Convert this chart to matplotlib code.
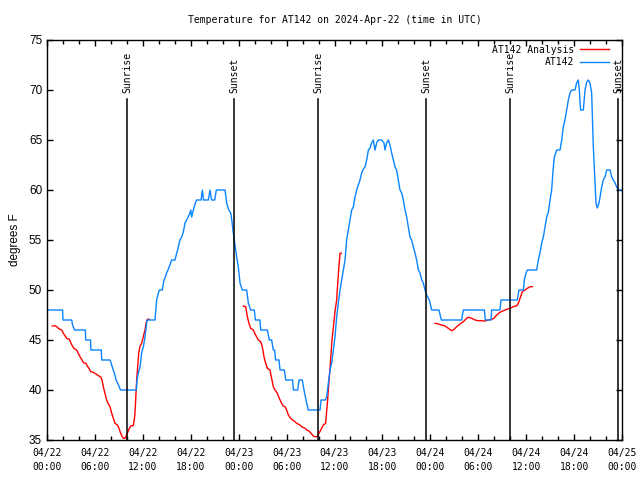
"""
Temperature plot for AT142, gnuplot look-alike
"""

import matplotlib
matplotlib.use('Agg')
import matplotlib.pyplot as plt
import matplotlib.dates as mdates
import numpy as np
import pandas as pd

START = pd.Timestamp('2024-04-22 00:00')

# station readings, hours after START / degrees F
at142_hours = [
    0.0, 1.95, 2.0, 3.1, 3.2, 3.45, 4.8, 4.85, 5.45, 5.5, 6.8, 6.85, 7.9, 8.1,
    8.3, 8.5, 8.65, 8.95, 9.2, 11.19, 11.27, 11.44, 11.65, 11.85, 12.06, 12.27,
    12.48, 12.56, 13.52, 13.65, 13.73, 13.94, 14.07, 14.44, 14.65, 14.82, 14.98,
    15.15, 15.61, 16.03, 16.24, 16.45, 16.65, 16.86, 17.07, 17.28, 17.49, 17.91,
    17.99, 18.12, 18.32, 18.57, 18.74, 19.3, 19.45, 19.6, 20.2, 20.41, 20.6,
    21.0, 21.2, 22.29, 22.5, 22.71, 23.0, 23.12, 23.33, 23.5, 23.75, 23.96,
    24.17, 24.46, 25.0, 25.21, 25.5, 25.96, 26.09, 26.67, 26.76, 27.59, 27.84,
    28.13, 28.34, 28.5, 28.63, 29.05, 29.18, 29.72, 29.89, 30.76, 30.85, 31.39,
    31.56, 31.97, 32.18, 32.43, 32.72, 34.19, 34.31, 34.85, 35.02, 35.23, 35.44,
    35.65, 35.86, 36.06, 36.27, 36.48, 36.69, 36.9, 37.11, 37.32, 37.52, 37.73,
    37.94, 38.15, 38.36, 38.57, 38.78, 38.99, 39.19, 39.4, 39.61, 39.82, 40.03,
    40.24, 40.45, 40.65, 40.86, 41.07, 41.28, 41.49, 41.91, 42.2, 42.32, 42.53,
    42.74, 42.95, 43.16, 43.37, 43.58, 43.78, 43.99, 44.2, 44.41, 44.62, 44.83,
    45.04, 45.25, 45.45, 45.66, 45.87, 46.08, 46.29, 46.5, 46.71, 46.92, 47.12,
    47.33, 47.54, 47.88, 48.17, 49.08, 49.38, 51.92, 52.13, 54.76, 54.89, 55.6,
    55.68, 56.72, 56.85, 58.89, 59.1, 59.65, 59.77, 59.98, 60.15, 61.32, 61.52,
    61.73, 61.94, 62.15, 62.36, 62.57, 62.78, 62.99, 63.19, 63.4, 63.53, 63.82,
    64.24, 64.45, 64.65, 64.86, 65.07, 65.28, 65.49, 65.7, 66.11, 66.32, 66.53,
    66.66, 66.74, 66.82, 67.16, 67.37, 67.58, 67.79, 67.99, 68.2, 68.41, 68.62,
    68.74, 68.91, 69.12, 69.25, 69.45, 69.66, 69.87, 70.08, 70.5, 70.71, 70.92,
    71.13, 71.33, 71.54, 71.9,
]
at142_temp = [
    48, 48, 47, 47, 46.5, 46, 46, 45, 45, 44, 44, 43, 43, 42.5,
    42, 41.5, 41, 40.5, 40, 40, 41, 41.7, 42.3, 43.7, 44.3, 45.3,
    46.7, 47, 47, 48.3, 49, 49.7, 50, 50, 51, 51.3, 51.7,
    52, 53, 53, 53.7, 54.3, 55, 55.3, 55.8, 56.7, 57, 57.7,
    58, 57.3, 58, 58.7, 59, 59, 60, 59, 59, 60, 59,
    59, 60, 60, 58.7, 58.1, 57.7, 57.1, 55.7, 54.7, 53.3, 52.3,
    50.7, 50, 50, 48.7, 48, 48, 47, 47, 46, 46, 45,
    45, 44, 44, 43, 43, 42, 42, 41, 41, 40, 40,
    41, 41, 40, 39, 38, 38, 39, 39, 39.3, 40.7, 42,
    42.7, 44, 45.3, 47.3, 48.7, 50, 51, 52, 53, 55, 56,
    57, 58, 58.3, 59.3, 60, 60.5, 61, 61.7, 62.1, 62.3, 63,
    64, 64.2, 64.7, 65, 64, 64.7, 65, 65, 64.7, 64, 64.7,
    65, 64.5, 63.7, 63, 62.3, 62, 61, 60, 59.7, 59, 58,
    57.3, 56.3, 55.3, 55, 54.3, 53.7, 53, 52, 51.7, 51, 50.7,
    50, 49.5, 49, 48, 48, 47, 47, 48, 48, 47, 47,
    48, 48, 49, 49, 50, 50, 51, 51.7, 52, 52, 53,
    53.7, 54.7, 55.3, 56.3, 57.3, 57.8, 59, 60, 62.3, 63.3, 64,
    64, 65, 66.3, 67, 68, 69, 69.7, 70, 70, 70.7, 71,
    70, 68.8, 68, 68, 70, 70.8, 71, 70.7, 69.7, 64.3, 60.7,
    58.7, 58.2, 58.7, 59.3, 60.3, 61, 61.3, 62, 62, 61.3, 61,
    60.7, 60.3, 60, 60,
]

# analysis runs (nan = gap between runs)
analysis_hours = [
    0.67, 1.0, 1.21, 1.42, 1.63, 1.84, 2.05, 2.25, 2.46, 2.8, 3.01, 3.3, 3.51,
    3.71, 3.92, 4.13, 4.34, 4.55, 4.88, 5.05, 5.3, 5.47, 5.8, 6.14, 6.43, 6.72,
    6.89, 7.05, 7.26, 7.47, 7.68, 7.89, 8.1, 8.31, 8.52, 8.81, 9.02, 9.22, 9.43,
    9.56, 9.77, 9.89, 10.06, 10.31, 10.52, 10.81, 10.98, 11.06, 11.14, 11.23,
    11.35, 11.48, 11.65, 11.85, 12.06, 12.27, 12.4, 12.56, 12.81,
    np.nan,
    24.58, 24.88, 25.09, 25.29, 25.5, 25.84, 26.05, 26.46, 26.76, 26.96, 27.17,
    27.38, 27.59, 27.92, 28.13, 28.34, 28.55, 28.84, 29.09, 29.38, 29.59, 29.8,
    30.01, 30.22, 30.51, 30.76, 31.05, 31.26, 31.68, 31.89, 32.31, 32.52, 32.81,
    33.06, 33.35, 33.56, 33.85, 34.06, 34.39, 34.6, 34.89, 35.02, 35.14, 35.27,
    35.44, 35.65, 35.86, 36.06, 36.27, 36.36, 36.52, 36.69, 36.86,
    np.nan,
    48.58, 49.0, 49.42, 49.84, 50.25, 50.67, 50.88, 51.3, 51.72, 52.13, 52.55,
    52.76, 53.18, 53.59, 54.01, 54.43, 54.85, 55.26, 55.68, 55.97, 56.31, 56.72,
    57.14, 57.56, 57.98, 58.39, 58.81, 59.02, 59.23, 59.52, 59.85, 60.15, 60.48,
    60.77,
]
analysis_temp = [
    46.4, 46.43, 46.33, 46.17, 46.07, 46.0, 45.67, 45.43, 45.17, 45.07, 44.67,
    44.23, 44.07, 44.0, 43.67, 43.33, 43.07, 42.73, 42.67, 42.4, 42.1, 41.83,
    41.77, 41.6, 41.43, 41.33, 41.0, 40.33, 39.67, 39.0, 38.6, 38.33, 37.67,
    37.17, 36.67, 36.5, 36.17, 35.67, 35.33, 35.17, 35.17, 35.4, 35.67, 36.17,
    36.43, 36.43, 37.33, 38.33, 39.67, 41.0, 42.33, 43.67, 44.4, 44.67, 45.33,
    46.0, 46.67, 47.07, 47.07,
    np.nan,
    48.4, 48.33, 47.33, 46.67, 46.17, 46.0, 45.6, 45.0, 44.83, 44.33, 43.33,
    42.67, 42.17, 42.0, 41.17, 40.33, 40.0, 39.67, 39.17, 38.67, 38.4, 38.33,
    38.0, 37.5, 37.17, 37.0, 36.83, 36.67, 36.5, 36.33, 36.17, 36.0, 35.9,
    35.67, 35.4, 35.33, 35.33, 35.67, 36.17, 36.5, 36.67, 37.83, 39.0, 40.5,
    42.17, 44.67, 46.33, 47.83, 49.0, 50.17, 52.0, 53.67, 53.67,
    np.nan,
    46.67, 46.6, 46.5, 46.4, 46.17, 45.93, 46.0, 46.33, 46.6, 46.83, 47.17,
    47.27, 47.17, 47.0, 46.93, 46.93, 46.9, 47.0, 47.07, 47.17, 47.5, 47.77,
    47.93, 48.07, 48.17, 48.33, 48.43, 48.67, 49.17, 49.83, 50.0, 50.17, 50.33,
    50.33,
]

sun_labels = ['Sunrise', 'Sunset', 'Sunrise', 'Sunset', 'Sunrise', 'Sunset']
sun_hours = [10.05, 23.45, 33.97, 47.47, 58.0, 71.55]

MONO = 'DejaVu Sans Mono'
SANS = 'Liberation Sans'


def to_time(hours):
    """ hours after START -> datetimes """
    return START + pd.to_timedelta(np.asarray(hours, dtype=float), unit='h')


fig = plt.figure(figsize=(6.4, 4.8), dpi=100)
ax = fig.add_axes([47 / 640, 1 - 440 / 480, 575 / 640, 400 / 480])

ax.plot(to_time(analysis_hours), analysis_temp, color='#ff0000', lw=1.0,
        label='AT142 Analysis')
ax.plot(to_time(at142_hours), at142_temp, color='#0a84ff', lw=1.0,
        label='AT142')

for name, h in zip(sun_labels, sun_hours):
    t = to_time([h])[0]
    ax.plot([t, t], [35, 69.1], color='black', lw=1.1)
    ax.text(t, 69.7, name, rotation=90, ha='center', va='bottom',
            family=MONO, fontsize=7)

ax.set_xlim(START, START + pd.Timedelta(hours=72))
ax.set_ylim(35, 75)
ax.set_yticks(range(35, 76, 5))

ax.xaxis.set_major_locator(mdates.HourLocator(byhour=[0, 6, 12, 18]))
ax.xaxis.set_minor_locator(mdates.HourLocator(interval=2))
ax.xaxis.set_major_formatter(mdates.DateFormatter('%m/%d\n%H:%M'))

ax.tick_params(which='both', direction='in', top=True, right=True, width=1.0)
ax.tick_params(which='major', length=4.5)
ax.tick_params(which='minor', length=3)
ax.tick_params(axis='x', pad=6)
for lbl in ax.get_xticklabels():
    lbl.set_family(MONO)
    lbl.set_fontsize(7)
    lbl.set_linespacing(1.5)
for lbl in ax.get_yticklabels():
    lbl.set_family(SANS)
    lbl.set_fontsize(8.5)
for sp in ax.spines.values():
    sp.set_linewidth(1.0)

ax.set_ylabel('degrees F', family=SANS, fontsize=8.5, labelpad=6)
ax.set_title('Temperature for AT142 on 2024-Apr-22 (time in UTC)',
             family=MONO, fontsize=7, pad=12)

ax.legend(loc='upper right', bbox_to_anchor=(0.986, 1.0), frameon=False,
          markerfirst=False, prop={'family': MONO, 'size': 7},
          handlelength=3.0, borderaxespad=0.1, labelspacing=0.25,
          handletextpad=0.6)

plt.savefig('out.png', dpi=100)
plt.close(fig)
